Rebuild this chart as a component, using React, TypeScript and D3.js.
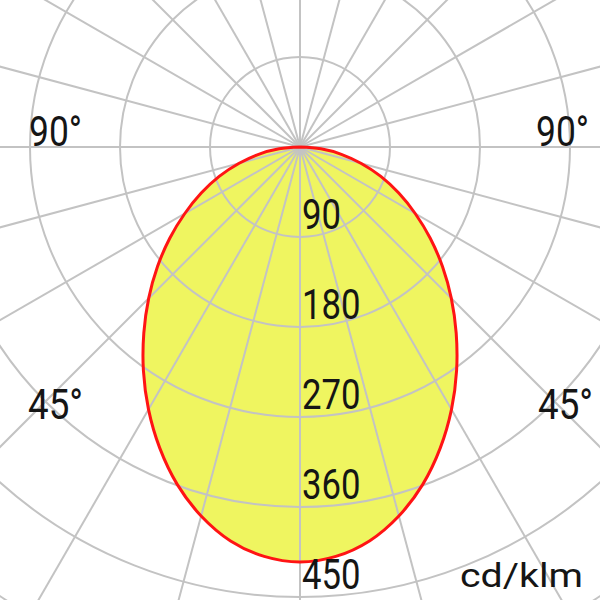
import React from "react";
import * as d3 from "d3";

// Luminous intensity (cd/klm) by angle from nadir (symmetric C0-C180 plane)
const angles = [0, 5, 10, 15, 20, 25, 30, 35, 40, 45, 50, 55, 60, 65, 70, 75, 80, 85, 90];
const intensity = [415, 411, 400, 382, 359, 332, 303, 273, 243, 214, 186, 159, 133, 109, 86, 63, 42, 21, 0];

const ringValues = [90, 180, 270, 360, 450, 540, 630];
const ringLabels = ["90", "180", "270", "360", "450"];
const radialStep = 15;
const angleLabels = ["90°", "45°"];
const unitLabel = "cd/klm";

const W = 600;
const H = 600;
const CX = 300;
const CY = 147;

export default function App() {
  const r = d3.scaleLinear().domain([0, 450]).range([0, 450]);

  const pts: { a: number; v: number }[] = [];
  for (let i = angles.length - 1; i >= 0; i--) pts.push({ a: -angles[i], v: intensity[i] });
  for (let i = 1; i < angles.length; i++) pts.push({ a: angles[i], v: intensity[i] });

  const line = d3
    .lineRadial<{ a: number; v: number }>()
    .angle((d) => Math.PI - (d.a * Math.PI) / 180)
    .radius((d) => r(d.v))
    .curve(d3.curveCatmullRom.alpha(0.5));
  const curvePath = line(pts) || "";

  const radials = d3.range(0, 360, radialStep);

  const font = "Roboto, 'DejaVu Sans', sans-serif";
  const textColor = "#151515";

  return (
    <svg
      width={W}
      height={H}
      style={{ position: "fixed", left: 0, top: 0, background: "#fff" }}
      viewBox={`0 0 ${W} ${H}`}
    >
      <rect x={0} y={0} width={W} height={H} fill="#ffffff" />
      <g transform={`translate(${CX},${CY})`}>
        <path d={curvePath + "Z"} fill="#eff560" stroke="none" />
        {ringValues.map((v) => (
          <circle key={v} r={r(v)} fill="none" stroke="#c3c3c3" strokeWidth={2} />
        ))}
        {radials.map((a) => {
          const rad = (a * Math.PI) / 180;
          return (
            <line
              key={a}
              x1={0}
              y1={0}
              x2={Math.sin(rad) * 800}
              y2={Math.cos(rad) * 800}
              stroke="#c3c3c3"
              strokeWidth={2}
            />
          );
        })}
        <path d={curvePath} fill="none" stroke="#ff1414" strokeWidth={3} />
        {ringLabels.map((t, i) => (
          <text
            key={t}
            x={2}
            y={r(ringValues[i]) - 8}
            fontFamily={font}
            fontSize={42}
            fill={textColor}
            textLength={19.5 * t.length}
            lengthAdjust="spacingAndGlyphs"
          >
            {t}
          </text>
        ))}
      </g>
      <text x={29} y={146} fontFamily={font} fontSize={42} fill={textColor} textLength={53} lengthAdjust="spacingAndGlyphs">
        {angleLabels[0]}
      </text>
      <text x={536} y={146} fontFamily={font} fontSize={42} fill={textColor} textLength={53} lengthAdjust="spacingAndGlyphs">
        {angleLabels[0]}
      </text>
      <text x={28} y={419} fontFamily={font} fontSize={42} fill={textColor} textLength={55} lengthAdjust="spacingAndGlyphs">
        {angleLabels[1]}
      </text>
      <text x={538} y={419} fontFamily={font} fontSize={42} fill={textColor} textLength={55} lengthAdjust="spacingAndGlyphs">
        {angleLabels[1]}
      </text>
      <text x={460} y={587} fontFamily={font} fontSize={33} fill={textColor} textLength={123} lengthAdjust="spacingAndGlyphs">
        {unitLabel}
      </text>
    </svg>
  );
}
